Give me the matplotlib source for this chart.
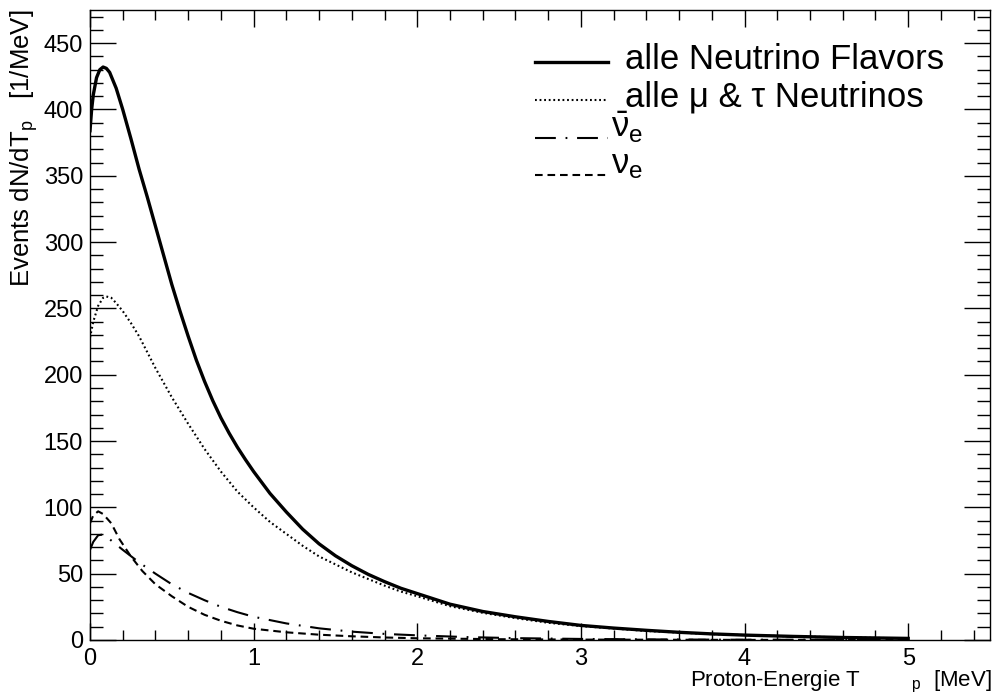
import matplotlib
matplotlib.use("Agg")
import matplotlib.pyplot as plt
from matplotlib.ticker import MultipleLocator
from matplotlib.lines import Line2D

plt.rcParams['font.family'] = ['Liberation Sans', 'DejaVu Sans']
plt.rcParams['mathtext.fontset'] = 'custom'
plt.rcParams['mathtext.rm'] = 'Liberation Sans'
plt.rcParams['mathtext.it'] = 'Liberation Sans'
plt.rcParams['mathtext.bf'] = 'Liberation Sans:bold'
plt.rcParams['lines.scale_dashes'] = False


# Spectra
x_all = [0.0, 0.01, 0.02, 0.04, 0.06, 0.08, 0.1, 0.12, 0.16, 0.2, 0.25, 0.3,
         0.35, 0.4, 0.45, 0.5, 0.55, 0.6, 0.65, 0.7, 0.75, 0.8, 0.85, 0.9, 0.95,
         1.0, 1.1, 1.2, 1.3, 1.4, 1.5, 1.6, 1.7, 1.8, 1.9, 2.0, 2.2, 2.4, 2.6,
         2.8, 3.0, 3.2, 3.4, 3.6, 3.8, 4.0, 4.3, 4.6, 5.0]
y_all = [384, 400, 411, 424, 430, 432, 431, 428, 416, 400, 378, 355,
         334, 312, 290, 268, 248, 229, 211, 195, 180.5, 167.5, 156, 145.5, 136,
         127, 110.5, 96.5, 83.5, 72.5, 63.5, 56, 49.5, 44, 39, 35, 27, 21.5, 17.5,
         14, 11, 9, 7.3, 5.8, 4.6, 3.7, 2.7, 1.9, 1.2]

x_mutau = [0.0, 0.02, 0.05, 0.08, 0.1, 0.13, 0.16, 0.2, 0.25, 0.3, 0.35, 0.4,
           0.45, 0.5, 0.55, 0.6, 0.7, 0.8, 0.9, 1.0, 1.1, 1.2, 1.3, 1.4, 1.5,
           1.6, 1.7, 1.8, 1.9, 2.0, 2.2, 2.4, 2.6, 2.8, 3.0, 3.4, 3.8, 4.2,
           4.6, 5.0]
y_mutau = [228, 240, 252, 258, 259, 258, 254, 248, 239, 229, 217, 205,
           194, 183, 173, 163, 144, 127, 112, 100, 89, 80, 71, 63, 57,
           51, 46, 41, 36.5, 33, 25.5, 20.5, 16.5, 13, 10.5, 6.8, 4.4, 3.0,
           2.0, 1.2]

x_nuebar = [0.0, 0.02, 0.05, 0.08, 0.12, 0.2, 0.3, 0.4, 0.5, 0.6, 0.7, 0.8, 0.9,
            1.0, 1.2, 1.4, 1.6, 1.8, 2.0, 2.3, 2.6, 3.0, 3.5, 4.0, 5.0]
y_nuebar = [68, 74, 79, 79.5, 76, 68, 58.5, 50, 42, 35.5, 30, 25, 21,
            17.5, 12.5, 8.8, 6.3, 4.6, 3.5, 2.2, 1.4, 0.8, 0.4, 0.2, 0.05]

x_nue = [0.0, 0.02, 0.05, 0.08, 0.13, 0.18, 0.25, 0.32, 0.4, 0.5, 0.6, 0.7, 0.8,
         0.9, 1.0, 1.2, 1.4, 1.6, 1.8, 2.0, 2.5, 3.0, 4.0, 5.0]
y_nue = [88, 94, 97, 95, 88, 76, 63, 52, 42, 33, 25, 19, 14.5,
         11, 8.5, 5.8, 4.0, 2.8, 1.9, 1.3, 0.6, 0.3, 0.08, 0.02]

labels = ["alle Neutrino Flavors", "alle \u03bc & \u03c4 Neutrinos",
          r"$\bar{\nu}_\mathrm{e}$", r"$\nu_\mathrm{e}$"]


fig = plt.figure(figsize=(9.94, 7.0), dpi=100)
ax = fig.add_axes([90 / 994, 60 / 700, 900 / 994, 630 / 700])

styles = [
    dict(color="black", lw=2.4, ls="-"),
    dict(color="black", lw=1.5, dashes=(1.3, 2.0)),
    dict(color="black", lw=1.5, dashes=(15, 7, 1.3, 7)),
    dict(color="black", lw=1.5, dashes=(5.5, 3.5)),
]
series = [(x_all, y_all), (x_mutau, y_mutau), (x_nuebar, y_nuebar), (x_nue, y_nue)]

for (xs, ys), st in zip(series, styles):
    ax.plot(xs, ys, **st)

ax.set_xlim(0, 5.5)
ax.set_ylim(0, 475)

ax.xaxis.set_major_locator(MultipleLocator(1))
ax.xaxis.set_minor_locator(MultipleLocator(0.2))
ax.yaxis.set_major_locator(MultipleLocator(50))
ax.yaxis.set_minor_locator(MultipleLocator(10))

ax.tick_params(which="both", direction="in", top=True, right=True, width=1,
               labelsize=17)
ax.tick_params(axis="x", which="major", length=12, pad=6)
ax.tick_params(axis="x", which="minor", length=7)
ax.tick_params(axis="y", which="major", length=19, pad=5)
ax.tick_params(axis="y", which="minor", length=9.5)
for s in ax.spines.values():
    s.set_linewidth(1)

ax.set_xlabel(r"Proton-Energie T$\hspace{2.8}_\mathrm{p}$  [MeV]", fontsize=16,
              ha="right", va="top")
ax.xaxis.set_label_coords(1.002, -0.046)
ax.set_ylabel(r"Events dN/dT$_\mathrm{p}$   [1/MeV]", fontsize=18.5, ha="right")
ax.yaxis.set_label_coords(-0.055, 1.0)

# legend, ROOT style
rows = [61.7, 100, 138.3, 175]
base = [69.3, 106.5, 137, 173]
text_x = [625, 625, 611, 611]
for st, lab, ry, by, tx in zip(styles, labels, rows, base, text_x):
    fig.add_artist(Line2D([535 / 994, 608 / 994], [1 - ry / 700, 1 - ry / 700],
                          transform=fig.transFigure, **st))
    fig.text(tx / 994, 1 - by / 700, lab, fontsize=25, va="baseline", ha="left")

fig.savefig("out.png", dpi=100)
